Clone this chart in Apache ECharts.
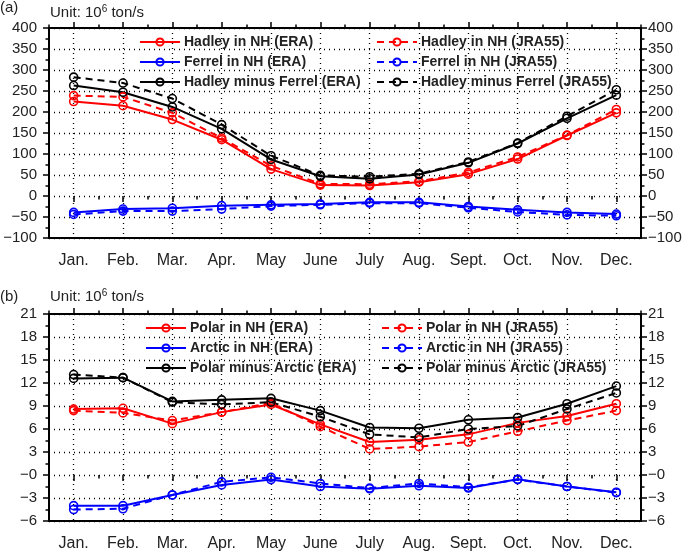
<!DOCTYPE html>
<html><head><meta charset="utf-8">
<script src="https://cdn.jsdelivr.net/npm/echarts@6/dist/echarts.min.js"></script>
<style>html,body{margin:0;padding:0;background:#fff}#c{width:688px;height:552px}</style>
</head><body><div id="c"></div>
<script>
const months = ['Jan.','Feb.','Mar.','Apr.','May','June','July','Aug.','Sept.','Oct.','Nov.','Dec.'];

// Panel (a) tick values and labels
const yTicksA  = [-100,-50,0,50,100,150,200,250,300,350,400];
const yLabelsA = ['\u2212100','\u221250','0','50','100','150','200','250','300','350','400'];
// Panel (b) tick values and labels
const yTicksB  = [-6,-3,0,3,6,9,12,15,18,21];
const yLabelsB = ['\u22126','\u22123','\u22120','3','6','9','12','15','18','21'];

// Panel (a) series (10^6 ton/s)
const hadleyERA = [225,215,182,134,64,26,25,33,52,88,144,198];
const hadleyJRA = [239,236,198,138,72,29,28,35,56,93,145,206];
const ferrelERA = [-39,-31,-29,-23,-21,-19,-15,-15,-25,-33,-39,-43];
const ferrelJRA = [-44,-36,-36,-31,-24,-21,-17,-17,-28,-38,-45,-47];
const hmfERA    = [263,247,212,160,87,47,41,51,79,125,185,240];
const hmfJRA    = [283,269,232,170,96,49,46,53,81,126,190,253];

// Panel (b) series (10^6 ton/s)
const polarERA  = [8.6,8.7,6.7,8.2,9.2,6.6,4.3,4.6,5.3,6.8,7.7,9.3];
const polarJRA  = [8.4,8.1,7.1,8.2,9.4,6.3,3.4,3.7,4.3,5.7,7.1,8.4];
const arcticERA = [-4.0,-4.0,-2.6,-1.3,-0.6,-1.5,-1.8,-1.4,-1.7,-0.55,-1.5,-2.25];
const arcticJRA = [-4.5,-4.4,-2.6,-0.9,-0.3,-1.1,-1.7,-1.1,-1.6,-0.6,-1.5,-2.3];
const pmaERA    = [12.6,12.7,9.6,9.8,10.0,8.4,6.2,6.1,7.2,7.5,9.3,11.6];
const pmaJRA    = [13.1,12.7,9.5,9.2,9.5,7.6,5.3,4.9,6.0,6.4,8.6,10.7];

const FONT = 'Liberation Sans, Arial, Helvetica, sans-serif';
const RED = '#ff0000', BLUE = '#0000ff', BLACK = '#000000';

const grids = [
  {left: 49, top: 28, width: 592, height: 210, show: true, borderColor: '#000', borderWidth: 2},
  {left: 49, top: 314, width: 592, height: 212, show: true, borderColor: '#000', borderWidth: 2}
];

function xAxes(g) {
  const base = {gridIndex: g, type: 'category', data: months, boundaryGap: true,
    axisLine: {show: false}};
  return [
    Object.assign({}, base, {position: 'bottom',
      axisTick: {show: true, alignWithLabel: true, length: 6, lineStyle: {color: '#000', width: 1.5}},
      axisLabel: {show: true, interval: 0, fontSize: 16, color: '#222', fontFamily: FONT, margin: 15},
      splitLine: {show: true, alignWithLabel: true, interval: 0, lineStyle: {color: '#000', width: 1.3, type: [1, 4]}}}),
    Object.assign({}, base, {position: 'bottom',
      axisTick: {show: true, alignWithLabel: false, length: 3.5, lineStyle: {color: '#000', width: 1.5}},
      axisLabel: {show: false}, splitLine: {show: false}}),
    Object.assign({}, base, {position: 'top',
      axisTick: {show: true, alignWithLabel: true, length: 6, lineStyle: {color: '#000', width: 1.5}},
      axisLabel: {show: false}, splitLine: {show: false}}),
    Object.assign({}, base, {position: 'top',
      axisTick: {show: true, alignWithLabel: false, length: 3.5, lineStyle: {color: '#000', width: 1.5}},
      axisLabel: {show: false}, splitLine: {show: false}})
  ];
}

function yAxes(g, ticks, labels) {
  const fmt = v => { const i = ticks.indexOf(v); return i >= 0 ? labels[i] : ''; };
  const base = {gridIndex: g, type: 'value', min: ticks[0], max: ticks[ticks.length - 1],
    interval: ticks[1] - ticks[0], axisLine: {show: false},
    axisTick: {show: true, length: 6, lineStyle: {color: '#000', width: 1.5}},
    minorTick: {show: true, splitNumber: 2, length: 3.5, lineStyle: {color: '#000', width: 1.5}}};
  return [
    Object.assign({}, base, {position: 'left',
      axisLabel: {formatter: fmt, fontSize: 15, color: '#222', fontFamily: FONT, margin: 12},
      splitLine: {show: true, lineStyle: {color: '#000', width: 1.3, type: [1, 4]}}}),
    Object.assign({}, base, {position: 'right',
      axisLabel: {formatter: fmt, fontSize: 15, color: '#222', fontFamily: FONT, margin: 7},
      splitLine: {show: false}})
  ];
}

function mk(name, data, color, dashed, g) {
  return {
    name: name, type: 'line', data: data,
    xAxisIndex: g * 4, yAxisIndex: g * 2,
    symbol: 'circle', symbolSize: 8, color: color,
    itemStyle: {color: 'rgba(255,255,255,0)', borderColor: color, borderWidth: 1.6},
    lineStyle: {color: color, width: 2, type: dashed ? [7, 5] : 'solid'},
    emphasis: {disabled: true}, animation: false
  };
}

const series = [
  mk('Hadley in NH (ERA)', hadleyERA, RED, false, 0),
  mk('Hadley in NH (JRA55)', hadleyJRA, RED, true, 0),
  mk('Ferrel in NH (ERA)', ferrelERA, BLUE, false, 0),
  mk('Ferrel in NH (JRA55)', ferrelJRA, BLUE, true, 0),
  mk('Hadley minus Ferrel (ERA)', hmfERA, BLACK, false, 0),
  mk('Hadley minus Ferrel (JRA55)', hmfJRA, BLACK, true, 0),
  mk('Polar in NH (ERA)', polarERA, RED, false, 1),
  mk('Polar in NH (JRA55)', polarJRA, RED, true, 1),
  mk('Arctic in NH (ERA)', arcticERA, BLUE, false, 1),
  mk('Arctic in NH (JRA55)', arcticJRA, BLUE, true, 1),
  mk('Polar minus Arctic (ERA)', pmaERA, BLACK, false, 1),
  mk('Polar minus Arctic (JRA55)', pmaJRA, BLACK, true, 1)
];

function legend(left, top, names) {
  return {left: left, top: top, orient: 'vertical', data: names, itemWidth: 40, itemHeight: 9,
    itemGap: 6, selectedMode: false, padding: 0,
    textStyle: {fontSize: 14, lineHeight: 14, fontWeight: 'bold', color: '#222', fontFamily: FONT, padding: [0, 0, 0, -1]}};
}

const titleStyle = {fontSize: 15, fontWeight: 'normal', color: '#222', fontFamily: FONT,
  rich: {s: {fontSize: 10, fontFamily: FONT, color: '#222', padding: [0, 0, 8, 0]}}};

const option = {
  backgroundColor: '#fff',
  animation: false,
  title: [
    {text: '(a)', left: 0, top: 0, padding: 0, textStyle: titleStyle},
    {text: 'Unit: 10{s|6} ton/s', left: 50, top: 4, padding: 0, textStyle: titleStyle},
    {text: '(b)', left: 0, top: 289, padding: 0, textStyle: titleStyle},
    {text: 'Unit: 10{s|6} ton/s', left: 50, top: 288, padding: 0, textStyle: titleStyle}
  ],
  legend: [
    legend(139, 35, ['Hadley in NH (ERA)', 'Ferrel in NH (ERA)', 'Hadley minus Ferrel (ERA)']),
    legend(376, 35, ['Hadley in NH (JRA55)', 'Ferrel in NH (JRA55)', 'Hadley minus Ferrel (JRA55)']),
    legend(145, 321, ['Polar in NH (ERA)', 'Arctic in NH (ERA)', 'Polar minus Arctic (ERA)']),
    legend(381, 321, ['Polar in NH (JRA55)', 'Arctic in NH (JRA55)', 'Polar minus Arctic (JRA55)'])
  ],
  grid: grids,
  xAxis: xAxes(0).concat(xAxes(1)),
  yAxis: yAxes(0, yTicksA, yLabelsA).concat(yAxes(1, yTicksB, yLabelsB)),
  series: series
};

const chart = echarts.init(document.getElementById('c'), null, {renderer: 'canvas'});
chart.setOption(option);
</script>
</body></html>
